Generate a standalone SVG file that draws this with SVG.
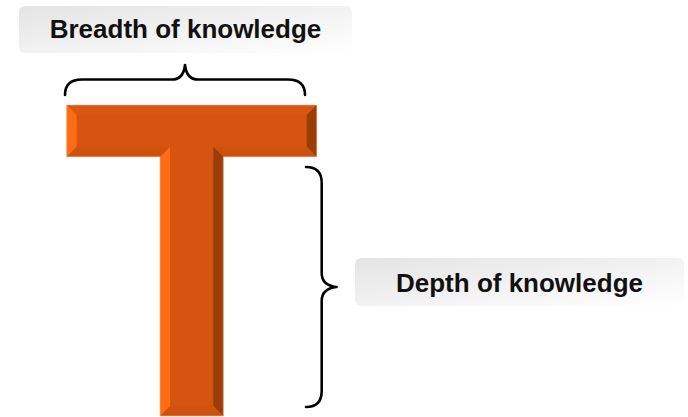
<svg xmlns="http://www.w3.org/2000/svg" width="688" height="417" viewBox="0 0 688 417">
<defs>
<linearGradient id="lbl" x1="0" y1="0" x2="1" y2="1">
<stop offset="0" stop-color="#e4e4e4"/>
<stop offset="1" stop-color="#ffffff"/>
</linearGradient>
<style>
.box{fill:url(#lbl);}
.lt{font-family:"Liberation Sans",Arial,sans-serif;font-weight:bold;font-size:26px;fill:#111;text-anchor:middle;}
.brace{fill:none;stroke:#000;stroke-width:2.6;stroke-linecap:round;stroke-linejoin:round;}
.main{fill:#d5540f;}
.bl{fill:#ff6c14;}
.br{fill:#9b3d09;}
.bt{fill:#d95811;}
.bb{fill:#cf510e;}
</style>
</defs>
<rect width="688" height="417" fill="#ffffff"/>
<g id="t-shape">
<polygon class="main" points="66.7,105 316.7,105 316.7,156.7 223.3,156.7 223.3,416 160,416 160,156.7 66.7,156.7"/>
<polygon class="bt" points="66.7,105 316.7,105 306.7,115 76.7,115"/>
<polygon class="br" points="316.7,105 316.7,156.7 306.7,146.7 306.7,115"/>
<polygon class="bb" points="316.7,156.7 223.3,156.7 213.3,146.7 306.7,146.7"/>
<polygon class="br" points="223.3,156.7 223.3,416 213.3,406 213.3,146.7"/>
<polygon class="bb" points="223.3,416 160,416 170,406 213.3,406"/>
<polygon class="bl" points="160,416 160,156.7 170,146.7 170,406"/>
<polygon class="bb" points="160,156.7 66.7,156.7 76.7,146.7 170,146.7"/>
<polygon class="bl" points="66.7,156.7 66.7,105 76.7,115 76.7,146.7"/>
<polygon points="66.7,105 316.7,105 316.7,156.7 223.3,156.7 223.3,416 160,416 160,156.7 66.7,156.7" fill="none" stroke="#f3b38c" stroke-width="0.8" stroke-opacity="0.7"/>
</g>
<g id="connectors">
<path class="brace" d="M65,95 C65,85 70,79.5 82,79.5 L172,79.5 C180,79.5 184,74 185,65 C186,74 190,79.5 198,79.5 L288,79.5 C300,79.5 305,85 305,95"/>
<path class="brace" d="M306,167 C316,167 321.7,172 321.7,183 L321.7,273 C321.7,281 327,286 336.5,287 C327,288 321.7,293 321.7,301 L321.7,391 C321.7,402 316,407 306,407"/>
</g>
<g id="breadth-label">
<rect class="box" x="19" y="6" width="333" height="47" rx="6"/>
<text class="lt" x="185.5" y="38">Breadth of knowledge</text>
</g>
<g id="depth-label">
<rect class="box" x="355" y="258" width="329" height="48" rx="6"/>
<text class="lt" x="519.5" y="292">Depth of knowledge</text>
</g>
</svg>
